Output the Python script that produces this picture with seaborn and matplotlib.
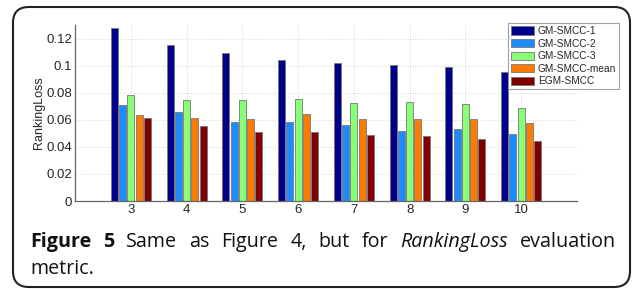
import matplotlib
matplotlib.use("Agg")
import matplotlib.pyplot as plt
import seaborn as sns
import pandas as pd
from matplotlib.patches import FancyBboxPatch

# ---- data ----
groups = ["3", "4", "5", "6", "7", "8", "9", "10"]
methods = ["GM-SMCC-1", "GM-SMCC-2", "GM-SMCC-3", "GM-SMCC-mean", "EGM-SMCC"]
gm_smcc_1 = [0.1279, 0.1151, 0.1094, 0.1042, 0.1022, 0.1002, 0.0990, 0.0951]
gm_smcc_2 = [0.0711, 0.0654, 0.0585, 0.0583, 0.0565, 0.0519, 0.0531, 0.0494]
gm_smcc_3 = [0.0785, 0.0746, 0.0748, 0.0753, 0.0723, 0.0731, 0.0716, 0.0684]
gm_smcc_mean = [0.0635, 0.0615, 0.0607, 0.0642, 0.0602, 0.0602, 0.0607, 0.0578]
egm_smcc = [0.0615, 0.0556, 0.0509, 0.0511, 0.0484, 0.0477, 0.0457, 0.0444]
yticks = [0, 0.02, 0.04, 0.06, 0.08, 0.1, 0.12]
ytick_labels = ["0", "0.02", "0.04", "0.06", "0.08", "0.1", "0.12"]

series = [gm_smcc_1, gm_smcc_2, gm_smcc_3, gm_smcc_mean, egm_smcc]
rows = []
for m, vals in zip(methods, series):
    for g, v in zip(groups, vals):
        rows.append({"group": g, "method": m, "value": v})
df = pd.DataFrame(rows)

colors = ["#00008c", "#1a8cff", "#88ff77", "#ff7a00", "#800000"]

sns.set_theme(style="white")
plt.rcParams["font.family"] = ["Liberation Sans", "DejaVu Sans"]

W, H = 634, 289
fig = plt.figure(figsize=(W / 100, H / 100), dpi=100)
ax = fig.add_axes([75 / W, 1 - 201 / H, (577 - 75) / W, (201 - 25) / H])

sns.barplot(data=df, x="group", y="value", hue="method", order=groups,
            hue_order=methods, palette=colors, width=0.74, gap=0.15,
            edgecolor="#777777", linewidth=0.6, ax=ax, saturation=1)

ax.set_xlim(-1, 8)
ax.set_ylim(0, 0.13)
ax.set_yticks(yticks)
ax.set_yticklabels(ytick_labels)
ax.set_xlabel("")
ax.set_ylabel("RankingLoss", fontsize=9, labelpad=1)
ax.tick_params(axis="both", direction="in", length=3, labelsize=9.5,
               color="#555555", pad=2)
ax.grid(True, linestyle=(0, (1, 2)), color="#c8c8c8", linewidth=0.6)
ax.set_axisbelow(True)
for s in ["left", "bottom"]:
    ax.spines[s].set_color("#666666")
    ax.spines[s].set_linewidth(0.9)
for s in ["right", "top"]:
    ax.spines[s].set_visible(False)

leg = ax.legend(loc="upper left", bbox_to_anchor=(508 / W, 1 - 23 / H),
                bbox_transform=fig.transFigure, fontsize=7.3, frameon=True,
                fancybox=False, borderpad=0.3, labelspacing=0.25,
                handlelength=2.3, handleheight=0.85, handletextpad=0.35,
                borderaxespad=0)
leg.get_frame().set_edgecolor("#888888")
leg.get_frame().set_linewidth(0.8)

# rounded border
box = FancyBboxPatch((13 / W, 2 / H), (630 - 13) / W, (282 - 2) / H,
                     boxstyle="round,pad=0,rounding_size=0.025",
                     transform=fig.transFigure, fill=False,
                     edgecolor="#222222", linewidth=1.5, clip_on=False,
                     mutation_aspect=W / H)
fig.patches.append(box)

# caption (justified line 1)
cap_font = ["Open Sans", "DejaVu Sans"]
fs = 14.2
line1 = [("Figure", "bold", "normal"), ("5", "bold", "normal"),
         ("Same", "normal", "normal"), ("as", "normal", "normal"),
         ("Figure", "normal", "normal"), ("4,", "normal", "normal"),
         ("but", "normal", "normal"), ("for", "normal", "normal"),
         ("RankingLoss", "normal", "italic"), ("evaluation", "normal", "normal")]
renderer = fig.canvas.get_renderer()
texts = []
widths = []
for word, wt, st in line1:
    t = fig.text(0, 0, word, fontsize=fs, fontweight=wt, fontstyle=st,
                 family=cap_font, color="#111111", va="baseline", ha="left")
    texts.append(t)
    widths.append(t.get_window_extent(renderer).width)
x0, x1 = 30, 616
gapw = (x1 - x0 - sum(widths)) / (len(widths) - 1)
x = x0
for t, w in zip(texts, widths):
    t.set_position((x / W, 1 - 247 / H))
    x += w + gapw
fig.text(30 / W, 1 - 274 / H, "metric.", fontsize=fs, family=cap_font,
         color="#111111", va="baseline", ha="left")

fig.savefig("out.png", dpi=100)
